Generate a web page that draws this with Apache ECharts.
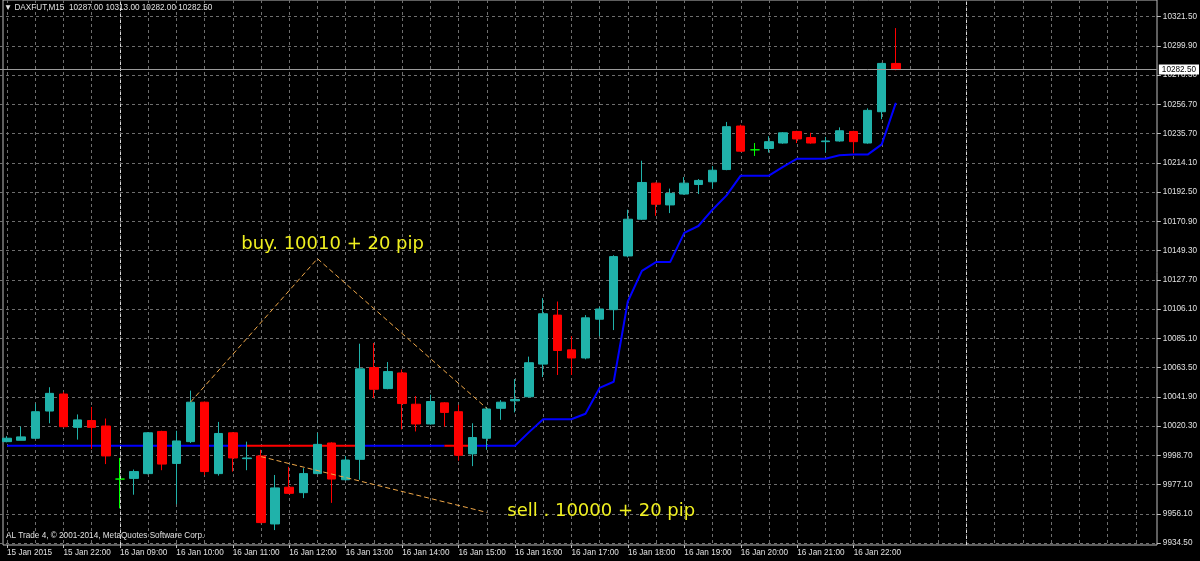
<!DOCTYPE html>
<html>
<head>
<meta charset="utf-8">
<script src="https://cdn.jsdelivr.net/npm/echarts@6/dist/echarts.min.js"></script>
<style>
html,body{margin:0;padding:0;background:#000;}
#chart{width:1200px;height:561px;}
</style>
</head>
<body>
<div id="chart"></div>
<script>
// ---- data ----
const timeLabels = ['15 Jan 2015','15 Jan 22:00','16 Jan 09:00','16 Jan 10:00','16 Jan 11:00','16 Jan 12:00','16 Jan 13:00','16 Jan 14:00','16 Jan 15:00','16 Jan 16:00','16 Jan 17:00','16 Jan 18:00','16 Jan 19:00','16 Jan 20:00','16 Jan 21:00','16 Jan 22:00'];
const barsPerLabel = 4;
const totalSlots = 82;

const openValues = [10009.0,10010.0,10011.5,10031.5,10044.0,10019.5,10024.5,10020.5,9981.5,9982.0,
  9985.5,10016.5,9993.0,10009.0,10038.0,9985.5,10015.5,9996.5,9998.5,9948.5,
  9975.5,9971.5,9985.5,10008.0,9981.0,9996.0,10063.5,10048.0,10059.5,10036.5,
  10022.0,10037.5,10031.0,10000.0,10011.5,10033.5,10039.0,10042.0,10066.0,10102.0,
  10076.5,10070.5,10099.0,10106.0,10145.5,10172.5,10199.0,10183.0,10191.0,10198.0,
  10200.0,10209.0,10241.0,10223.5,10224.5,10228.5,10237.0,10232.5,10229.5,10230.0,
  10237.0,10228.5,10251.5,10287.0];
const highValues = [10013.0,10020.0,10037.0,10049.0,10045.5,10029.0,10034.5,10026.0,9997.0,9988.5,
  10016.0,10017.0,10017.0,10046.5,10038.5,10023.5,10016.0,10009.0,10003.0,9984.5,
  9990.5,9989.5,10015.5,10008.5,9998.5,10081.0,10081.5,10067.5,10062.0,10042.5,
  10043.5,10038.0,10036.0,10022.5,10034.5,10039.5,10055.0,10071.5,10114.5,10112.0,
  10086.5,10102.0,10108.0,10146.0,10179.5,10215.5,10199.5,10195.0,10203.5,10202.0,
  10211.5,10244.0,10242.0,10228.5,10233.5,10236.5,10237.5,10236.0,10233.0,10240.0,
  10237.5,10254.0,10287.5,10313.0];
const lowValues = [10008.5,10010.0,10011.0,10022.5,10019.5,10010.5,10003.5,9992.5,9960.0,9970.0,
  9985.0,9988.0,9963.0,10008.0,9984.5,9984.0,9987.0,9988.0,9949.0,9944.0,
  9970.5,9967.5,9985.0,9964.0,9980.5,9981.0,10041.0,10047.5,10018.0,10016.5,
  10021.5,10020.0,9995.0,9991.0,10003.0,10025.0,10030.5,10041.5,10056.5,10058.0,
  10058.0,10069.5,10086.5,10091.0,10144.5,10172.0,10175.0,10177.0,10190.5,10191.0,
  10195.0,10208.5,10222.0,10219.0,10221.5,10228.0,10228.5,10228.0,10221.5,10229.5,
  10221.0,10228.0,10246.0,10282.0];
const closeValues = [10011.5,10012.5,10031.0,10044.5,10020.0,10025.0,10019.5,9998.5,9981.5,9987.0,
  10015.5,9992.5,10009.5,10038.0,9987.0,10015.0,9997.0,9997.0,9949.5,9975.0,
  9971.0,9985.5,10007.0,9981.5,9995.5,10062.5,10047.5,10060.5,10037.0,10022.0,
  10038.5,10030.5,9999.0,10012.0,10033.0,10038.0,10040.0,10067.0,10103.0,10076.0,
  10070.5,10100.0,10106.5,10145.0,10172.5,10199.5,10183.5,10191.5,10199.0,10201.0,
  10208.5,10240.5,10222.5,10223.5,10229.5,10236.0,10231.5,10228.5,10230.0,10237.5,
  10229.5,10252.5,10287.0,10282.5];

// indicator line (blue), with the bars where it is shown red
const trendValues = [10006,10006,10006,10006,10006,10006,10006,10006,10006,10006,
  10006,10006,10006,10006,10006,10006,10006,10006,10006,10006,
  10006,10006,10006,10006,10006,10006,10006,10006,10006,10006,
  10006,10006,10006,10006,10006,10006,10006,10016,10025.5,10025.5,
  10025.5,10029.5,10048.5,10053,10112,10134.5,10141,10141,10162.5,10167.5,
  10179.5,10190,10204.5,10204.5,10204.5,10211,10217,10217,10217,10219.5,
  10220,10220,10227.5,10258];
const redRanges = [[17, 25], [31, 33]];

const priceTicks = ['9934.50','9956.10','9977.10','9998.70','10020.30','10041.90','10063.50','10085.10','10106.10','10127.70','10149.30','10170.90','10192.50','10214.10','10235.70','10256.70','10278.30','10299.90','10321.50'];
const priceMin = 9934.5;
const priceMax = 10321.5;
const bidPrice = 10282.5;
const daySeparators = [8, 68];

// hand-drawn trend lines: [bar, price]
const buyLinePoints = [[13, 10038], [22, 10143.5], [34, 10033.5]];
const sellLinePoints = [[18, 9998], [34, 9957]];
const buyNote = { text: 'buy. 10010 + 20 pip', bar: 16, price: 10154 };
const sellNote = { text: 'sell . 10000 + 20 pip', bar: 35, price: 9957.5 };

const titleText = '\u25BC DAXFUT,M15  10287.00 10313.00 10282.00 10282.50';
const copyrightText = 'AL Trade 4, \u00A9 2001-2014, MetaQuotes Software Corp.';

// ---- build ----
const slots = [];
for (let i = 0; i < totalSlots; i++) slots.push(String(i));

const candleData = openValues.map((o, i) => {
  const item = { value: [o, closeValues[i], lowValues[i], highValues[i]] };
  if (o === closeValues[i]) {
    item.itemStyle = { color: '#00ff00', color0: '#00ff00', borderColor: '#00ff00', borderColor0: '#00ff00' };
  }
  return item;
});

const inRed = (i) => redRanges.some(r => i >= r[0] && i <= r[1]);
const insideRed = (i) => redRanges.some(r => i > r[0] && i < r[1]);
const redValues = trendValues.map((v, i) => inRed(i) ? v : null);
const blueValues = trendValues.map((v, i) => insideRed(i) ? null : v);

const annoLines = [];
for (let i = 0; i < buyLinePoints.length - 1; i++) {
  annoLines.push([{ coord: buyLinePoints[i] }, { coord: buyLinePoints[i + 1] }]);
}
annoLines.push([{ coord: sellLinePoints[0] }, { coord: sellLinePoints[1] }]);

const labelFont = 'Liberation Sans';
const labelSize = 8.2;
const textColor = '#e0e0e0';
const gridColor = '#6e6e6e';
const showTimeLabel = (idx) => idx % barsPerLabel === 0 && idx / barsPerLabel < timeLabels.length;

const chart = echarts.init(document.getElementById('chart'), null, { renderer: 'canvas' });
chart.setOption({
  animation: false,
  backgroundColor: '#000000',
  title: [
    { text: titleText, left: 4, top: 4, padding: 0,
      textStyle: { color: textColor, fontSize: labelSize, fontWeight: 'normal', fontFamily: labelFont } },
    { text: copyrightText, left: 6, top: 532, padding: 0,
      textStyle: { color: textColor, fontSize: labelSize, fontWeight: 'normal', fontFamily: labelFont } }
  ],
  grid: [
    { left: -4.4, right: 43, top: 0, bottom: 16, show: false },
    { left: -4.4, right: 43, top: 16.5, bottom: 18, show: false },
    { left: 3, right: 43, top: -10, bottom: 16, show: true, borderColor: '#bdbdbd', borderWidth: 1, backgroundColor: 'transparent' }
  ],
  xAxis: [
    { type: 'category', gridIndex: 0, data: slots, boundaryGap: true,
      axisLine: { show: false },
      axisTick: { show: true, alignWithLabel: true, interval: showTimeLabel, length: 3, lineStyle: { color: '#bdbdbd' } },
      axisLabel: { show: true, interval: showTimeLabel, align: 'left', margin: 4,
        formatter: (v, idx) => timeLabels[idx / barsPerLabel] || '',
        color: textColor, fontSize: labelSize, fontFamily: labelFont },
      splitLine: { show: true, interval: 1, alignWithLabel: true, lineStyle: { color: gridColor, type: [3, 3], width: 1 } } },
    { type: 'category', gridIndex: 1, data: slots, boundaryGap: true, show: false },
    { type: 'value', gridIndex: 2, min: 0, max: 1, show: false }
  ],
  yAxis: [
    { type: 'value', gridIndex: 0, min: 0, max: 1, show: false },
    { type: 'value', gridIndex: 1, min: priceMin, max: priceMax, show: false, position: 'left', scale: true },
    { type: 'category', gridIndex: 1, data: priceTicks, boundaryGap: false, position: 'right',
      axisLine: { show: false },
      axisTick: { show: true, interval: 0, length: 4, lineStyle: { color: '#bdbdbd' } },
      axisLabel: { show: true, interval: 0, margin: 6, color: textColor, fontSize: labelSize, fontFamily: labelFont },
      splitLine: { show: true, interval: 0, lineStyle: { color: gridColor, type: [3, 3], width: 1 } } },
    { type: 'value', gridIndex: 2, min: 0, max: 1, show: false }
  ],
  series: [
    { name: 'separators', type: 'line', xAxisIndex: 0, yAxisIndex: 0, data: [], silent: true,
      markLine: { silent: true, symbol: ['none', 'none'], label: { show: false },
        lineStyle: { color: '#d8d8d8', type: [3, 3], width: 1 },
        data: daySeparators.map(b => ({ xAxis: b })) } },
    { name: 'trend', type: 'line', xAxisIndex: 1, yAxisIndex: 1, data: blueValues, z: 2,
      symbol: 'none', connectNulls: false, lineStyle: { color: '#0000ff', width: 2 }, itemStyle: { color: '#0000ff' } },
    { name: 'trendRed', type: 'line', xAxisIndex: 1, yAxisIndex: 1, data: redValues, z: 3,
      symbol: 'none', connectNulls: false, lineStyle: { color: '#ff0000', width: 2 }, itemStyle: { color: '#ff0000' } },
    { name: 'DAXFUT', type: 'candlestick', xAxisIndex: 1, yAxisIndex: 1, data: candleData, z: 4,
      barWidth: 9,
      itemStyle: { color: '#20b2aa', color0: '#ff0000', borderColor: '#20b2aa', borderColor0: '#ff0000', borderWidth: 1 },
      markLine: { silent: true, symbol: ['none', 'none'],
        lineStyle: { color: '#9a9a9a', type: 'solid', width: 1 },
        label: { show: true, position: 'end', distance: 2, formatter: bidPrice.toFixed(2),
          backgroundColor: '#ffffff', color: '#000000', padding: [1, 3], fontSize: labelSize, fontFamily: labelFont },
        data: [{ yAxis: bidPrice }] } },
    { name: 'annotations', type: 'line', xAxisIndex: 1, yAxisIndex: 1, data: [], z: 5, silent: true,
      markLine: { silent: true, symbol: ['none', 'none'], label: { show: false },
        lineStyle: { color: '#f0a848', type: [5, 3], width: 1 },
        data: annoLines },
      markPoint: { silent: true, symbol: 'circle', symbolSize: 1, itemStyle: { color: 'transparent' },
        label: { show: true, position: 'right', distance: 0, color: '#f0f020', fontSize: 18, fontFamily: 'DejaVu Sans',
          formatter: p => p.name },
        data: [
          { name: buyNote.text, coord: [buyNote.bar, buyNote.price], label: { offset: [8, 0] } },
          { name: sellNote.text, coord: [sellNote.bar, sellNote.price], label: { offset: [6, 0] } }
        ] } }
  ]
});
</script>
</body>
</html>
